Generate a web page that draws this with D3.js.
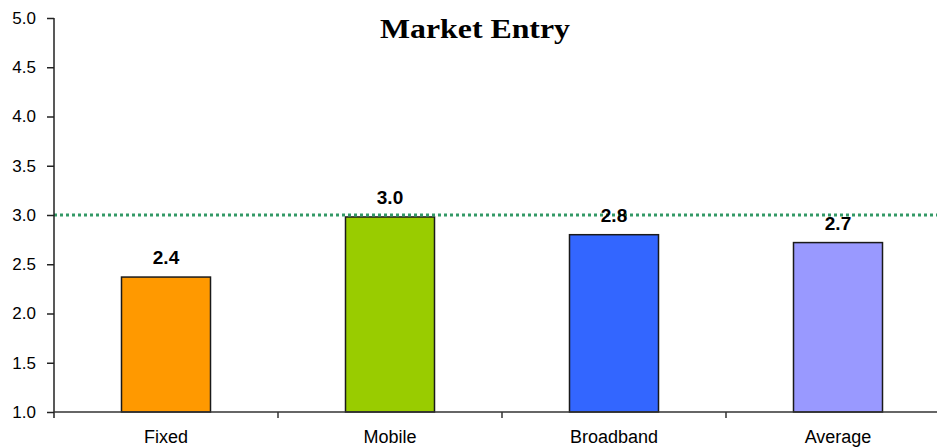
<!DOCTYPE html>
<html>
<head>
<meta charset="utf-8">
<script src="https://cdn.jsdelivr.net/npm/d3@7"></script>
<style>
body { margin: 0; background: #fff; }
</style>
</head>
<body>
<div id="chart"></div>
<script>
// data
var categories = ["Fixed", "Mobile", "Broadband", "Average"];
var scores = [2.37, 2.98, 2.80, 2.72];
var barColors = ["#FF9900", "#99CC00", "#3366FF", "#9999FF"];
var yTicks = [1.0, 1.5, 2.0, 2.5, 3.0, 3.5, 4.0, 4.5, 5.0];
var benchmark = 3.0;

var width = 937, height = 448;
var margin = {top: 18, left: 54, bottom: 36};
var plotBottom = height - margin.bottom; // 412

var svg = d3.select("#chart").append("svg")
    .attr("width", width)
    .attr("height", height);

// x band runs past the right edge like the original
var x = d3.scaleBand()
    .domain(categories)
    .range([margin.left, margin.left + 224 * 4])
    .padding(0);

var y = d3.scaleLinear()
    .domain([1, 5])
    .range([plotBottom, margin.top]);

// title
svg.append("text")
    .attr("x", 475)
    .attr("y", 38)
    .attr("text-anchor", "middle")
    .attr("font-family", "'Liberation Serif', 'Times New Roman', serif")
    .attr("font-weight", "bold")
    .attr("font-size", 27)
    .attr("textLength", 190)
    .attr("lengthAdjust", "spacingAndGlyphs")
    .text("Market Entry");

// bars
var barW = 89;
svg.selectAll(".bar")
    .data(scores)
  .enter().append("rect")
    .attr("class", "bar")
    .attr("x", function(d, i) { return x(categories[i]) + x.bandwidth() / 2 - barW / 2; })
    .attr("y", function(d) { return y(d); })
    .attr("width", barW)
    .attr("height", function(d) { return plotBottom - y(d); })
    .attr("fill", function(d, i) { return barColors[i]; })
    .attr("stroke", "#1a1a1a")
    .attr("stroke-width", 1.5);

// benchmark dotted line
svg.append("line")
    .attr("x1", margin.left)
    .attr("x2", width)
    .attr("y1", y(benchmark))
    .attr("y2", y(benchmark))
    .attr("stroke", "#339966")
    .attr("stroke-width", 3)
    .attr("stroke-dasharray", "3,3");

// value labels
svg.selectAll(".val")
    .data(scores)
  .enter().append("text")
    .attr("class", "val")
    .attr("x", function(d, i) { return x(categories[i]) + x.bandwidth() / 2; })
    .attr("y", function(d) { return y(d) - 13; })
    .attr("text-anchor", "middle")
    .attr("font-family", "'Liberation Sans', Arial, sans-serif")
    .attr("font-weight", "bold")
    .attr("font-size", 19)
    .text(function(d) { return d.toFixed(1); });

// y axis
var yAxis = svg.append("g")
    .attr("transform", "translate(" + margin.left + ",0)")
    .call(d3.axisLeft(y).tickValues(yTicks).tickSize(7).tickPadding(11)
      .tickFormat(d3.format(".1f")));
yAxis.select(".domain").attr("d", "M0," + margin.top + "V" + (plotBottom + 6))
    .attr("stroke", "#222").attr("stroke-width", 1.5);
yAxis.selectAll(".tick line").attr("stroke", "#222").attr("stroke-width", 1.5);
yAxis.selectAll(".tick text")
    .attr("font-family", "'Liberation Sans', Arial, sans-serif")
    .attr("font-size", 17)
    .attr("fill", "#000");

// x axis: ticks sit between categories
var xAxis = svg.append("g")
    .attr("transform", "translate(0," + plotBottom + ")");
xAxis.append("line")
    .attr("x1", margin.left)
    .attr("x2", width)
    .attr("stroke", "#333")
    .attr("stroke-width", 1.5);
xAxis.selectAll(".sep")
    .data(categories.slice(1))
  .enter().append("line")
    .attr("class", "sep")
    .attr("x1", function(d) { return x(d); })
    .attr("x2", function(d) { return x(d); })
    .attr("y1", 0)
    .attr("y2", 6)
    .attr("stroke", "#333")
    .attr("stroke-width", 1.5);
xAxis.selectAll(".cat")
    .data(categories)
  .enter().append("text")
    .attr("class", "cat")
    .attr("x", function(d) { return x(d) + x.bandwidth() / 2; })
    .attr("y", 31)
    .attr("text-anchor", "middle")
    .attr("font-family", "'Liberation Sans', Arial, sans-serif")
    .attr("font-size", 18)
    .text(function(d) { return d; });
</script>
</body>
</html>
